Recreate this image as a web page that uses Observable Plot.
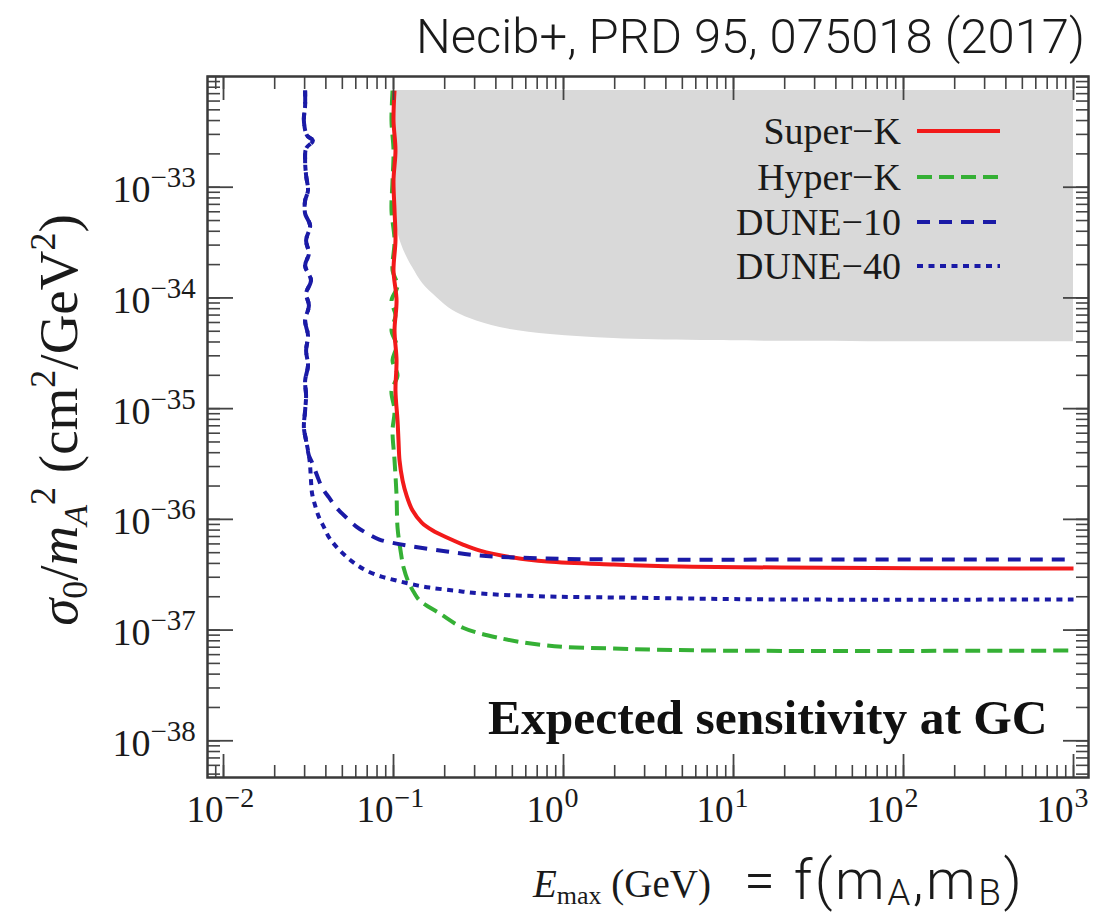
<!DOCTYPE html>
<html><head><meta charset="utf-8">
<script src="https://cdn.jsdelivr.net/npm/d3@7"></script>
<script src="https://cdn.jsdelivr.net/npm/@observablehq/plot@0.6"></script>
<style>
body{margin:0;background:#fff;}
#wrap{position:relative;width:1102px;height:920px;overflow:hidden;background:#fff;}
#wrap svg{position:absolute;left:0;top:0;}
</style></head><body><div id="wrap"></div>
<script>
const serif = "'Liberation Serif','Times New Roman',serif";
const sans = "Roboto,'Liberation Sans',sans-serif";

// [E_max (GeV), sigma0/mA^2 (cm^2/GeV^2)]
const duneShared = [[0.0302,7.47e-33],[0.0302,5.47e-33],[0.0297,4.00e-33],[0.0310,2.93e-33],[0.0336,2.64e-33],[0.0306,2.24e-33],[0.0302,1.74e-33],[0.0306,1.28e-33],[0.0314,9.33e-34],[0.0302,7.58e-34],[0.0302,5.79e-34],[0.0323,4.51e-34],[0.0306,3.30e-34],[0.0318,2.52e-34],[0.0302,1.96e-34],[0.0327,1.44e-34],[0.0306,1.10e-34],[0.0318,8.54e-35],[0.0302,6.25e-35],[0.0314,4.57e-35],[0.0306,3.35e-35],[0.0314,2.45e-35],[0.0302,1.79e-35],[0.0306,1.31e-35],[0.0302,9.61e-36],[0.0297,6.75e-36],[0.0306,5.15e-36],[0.0318,3.77e-36]];
const dune10Tail = [[0.0332,3.26e-36],[0.0355,2.49e-36],[0.0380,1.94e-36],[0.0418,1.57e-36],[0.0460,1.28e-36],[0.0527,1.04e-36],[0.0604,8.61e-37],[0.0702,7.44e-37],[0.0826,6.57e-37],[0.104,6.04e-37],[0.130,5.68e-37],[0.206,5.12e-37],[0.323,4.71e-37],[0.804,4.43e-37],[3.14,4.33e-37],[19.2,4.33e-37],[1000,4.33e-37]];
const dune40Tail = [[0.0323,3.06e-36],[0.0327,2.24e-36],[0.0332,1.71e-36],[0.0346,1.33e-36],[0.0365,1.04e-36],[0.0391,8.43e-37],[0.0418,6.85e-37],[0.0466,5.56e-37],[0.0527,4.61e-37],[0.0604,3.91e-37],[0.0692,3.45e-37],[0.0849,3.04e-37],[0.104,2.80e-37],[0.130,2.58e-37],[0.163,2.42e-37],[0.230,2.27e-37],[0.323,2.14e-37],[0.804,2.01e-37],[1.98,1.97e-37],[19.2,1.89e-37],[1000,1.89e-37]];
const superK = [[0.1014,7.47e-33],[0.1000,4.00e-33],[0.1027,2.15e-33],[0.1000,1.15e-33],[0.1014,6.16e-34],[0.1027,3.30e-34],[0.1000,1.77e-34],[0.1042,9.47e-35],[0.1014,5.08e-35],[0.1042,2.72e-35],[0.1027,1.46e-35],[0.1056,7.81e-36],[0.1070,5.15e-36],[0.1085,3.40e-36],[0.1131,2.24e-36],[0.1194,1.64e-36],[0.1295,1.20e-36],[0.1465,9.35e-37],[0.1701,7.92e-37],[0.2059,6.85e-37],[0.2561,5.92e-37],[0.3228,5.22e-37],[0.5059,4.52e-37],[0.8042,4.16e-37],[1.977,3.91e-37],[4.923,3.75e-37],[19.23,3.67e-37],[1000,3.59e-37]];
const hyperK = [[0.0987,7.47e-33],[0.0973,4.00e-33],[0.1000,2.15e-33],[0.0987,1.15e-33],[0.0973,6.16e-34],[0.1014,3.30e-34],[0.0987,1.77e-34],[0.1056,1.29e-34],[0.0973,9.47e-35],[0.1027,6.93e-35],[0.0973,5.08e-35],[0.1042,3.72e-35],[0.0987,2.72e-35],[0.1056,1.99e-35],[0.0973,1.46e-35],[0.1014,9.61e-36],[0.0987,6.34e-36],[0.1014,3.40e-36],[0.1042,1.64e-36],[0.1056,8.43e-37],[0.1100,5.22e-37],[0.1146,3.67e-37],[0.1227,2.69e-37],[0.1331,2.14e-37],[0.1425,1.85e-37],[0.1872,1.41e-37],[0.2561,1.05e-37],[0.4070,8.56e-38],[0.8042,7.24e-38],[1.977,6.81e-38],[7.721,6.53e-38],[1000,6.53e-38]];
// excluded region: lower boundary, upper edge
const grayLower = [[0.1027,7.58e-34],[0.1056,4.06e-34],[0.1131,2.85e-34],[0.1194,2.37e-34],[0.1295,1.88e-34],[0.1484,1.35e-34],[0.1796,1.01e-34],[0.2234,7.70e-35],[0.2817,6.52e-35],[0.4238,5.40e-35],[0.8377,4.67e-35],[1.977,4.30e-35],[6.47,4.12e-35],[98.6,4.03e-35],[1000,4.03e-35]];
const grayTop = 7.47e-33;

const xDomain = [0.00805, 1225];
const yDomain = [4.66e-39, 1e-32];
const xMajor = [1e-2, 1e-1, 1, 10, 100, 1000];
const xExp = ["−2", "−1", "0", "1", "2", "3"];
const yMajor = [1e-33, 1e-34, 1e-35, 1e-36, 1e-37, 1e-38];
const yExp = ["−33", "−34", "−35", "−36", "−37", "−38"];
const seriesNames = ["Super−K", "Hyper−K", "DUNE−10", "DUNE−40"];
const seriesColors = ["#f21a1a", "#35b035", "#1a1aa6", "#1a1aa6"];
const seriesDash = [null, "15,7", "13,9", "6,5.5"];

const dune10 = duneShared.concat(dune10Tail);
const dune40 = duneShared.concat(dune40Tail);
const xMinor = d3.scaleLog().domain(xDomain).ticks();
const yMinor = d3.scaleLog().domain(yDomain).ticks();

const tickStroke = "#444";
const lineOpts = (i) => ({x: d => d[0], y: d => d[1], stroke: seriesColors[i], strokeWidth: 4, strokeDasharray: seriesDash[i] || undefined, strokeLinecap: "butt", curve: "catmull-rom"});

const chart = Plot.plot({
  width: 1102, height: 920,
  marginLeft: 207, marginRight: 14, marginTop: 76, marginBottom: 143,
  style: {background: "transparent", overflow: "visible"},
  x: {type: "log", domain: xDomain},
  y: {type: "log", domain: yDomain},
  marks: [
    Plot.areaY(grayLower, {x: d => d[0], y1: d => d[1], y2: () => grayTop, fill: "#d9d9d9", curve: "catmull-rom"}),
    Plot.line(hyperK, lineOpts(1)),
    Plot.line(superK, lineOpts(0)),
    Plot.line(dune40, lineOpts(3)),
    Plot.line(dune10, lineOpts(2)),
    Plot.axisX(xMinor, {anchor: "bottom", tickSize: -12, tickFormat: () => "", stroke: tickStroke, strokeWidth: 1.6, label: null}),
    Plot.axisX(xMinor, {anchor: "top", tickSize: -12, tickFormat: () => "", stroke: tickStroke, strokeWidth: 1.6, label: null}),
    Plot.axisX(xMajor, {anchor: "bottom", tickSize: -23, tickFormat: () => "", stroke: tickStroke, strokeWidth: 1.8, label: null}),
    Plot.axisX(xMajor, {anchor: "top", tickSize: -23, tickFormat: () => "", stroke: tickStroke, strokeWidth: 1.8, label: null}),
    Plot.axisY(yMinor, {anchor: "left", tickSize: -13, tickFormat: () => "", stroke: tickStroke, strokeWidth: 1.6, label: null}),
    Plot.axisY(yMinor, {anchor: "right", tickSize: -13, tickFormat: () => "", stroke: tickStroke, strokeWidth: 1.6, label: null}),
    Plot.axisY(yMajor, {anchor: "left", tickSize: -26, tickFormat: () => "", stroke: tickStroke, strokeWidth: 1.8, label: null}),
    Plot.axisY(yMajor, {anchor: "right", tickSize: -26, tickFormat: () => "", stroke: tickStroke, strokeWidth: 1.8, label: null}),
    Plot.frame({stroke: "#3a3a3a", strokeWidth: 2.5}),
    Plot.text(xMajor, {x: d => d, frameAnchor: "bottom", text: () => "10", textAnchor: "end", lineAnchor: "bottom", dy: 44, fontSize: 37, fontFamily: serif, fill: "#1a1a1a"}),
    Plot.text(xMajor, {x: d => d, frameAnchor: "bottom", text: (d, i) => xExp[i], textAnchor: "start", lineAnchor: "bottom", dx: 1, dy: 29, fontSize: 28, fontFamily: serif, fill: "#1a1a1a"}),
    Plot.text(yMajor, {y: d => d, frameAnchor: "left", text: () => "10", textAnchor: "end", lineAnchor: "bottom", dx: -57, dy: 15, fontSize: 38, fontFamily: serif, fill: "#1a1a1a"}),
    Plot.text(yMajor, {y: d => d, frameAnchor: "left", text: (d, i) => yExp[i], textAnchor: "start", lineAnchor: "bottom", dx: -57, dy: 0, fontSize: 29, fontFamily: serif, fill: "#1a1a1a"}),
    Plot.text(["Expected sensitivity at GC"], {frameAnchor: "bottom-right", text: d => d, textAnchor: "end", lineAnchor: "bottom", dx: -41, dy: -44, fontSize: 49.5, fontWeight: "bold", fontFamily: serif, fill: "#111"})
  ]
});
document.getElementById("wrap").appendChild(chart);

// overlay: titles and legend
const ov = d3.select("#wrap").append("svg").attr("width", 1102).attr("height", 920)
  .style("pointer-events", "none");

ov.append("text").attr("x", 1085).attr("y", 53).attr("text-anchor", "end")
  .attr("font-family", sans).attr("font-weight", 300).attr("font-size", 49).attr("fill", "#1a1a1a")
  .text("Necib+, PRD 95, 075018 (2017)");

// x title
const xt = ov.append("text").attr("x", 533).attr("y", 897).attr("font-family", serif).attr("font-size", 39).attr("fill", "#1a1a1a");
xt.append("tspan").attr("font-style", "italic").text("E");
xt.append("tspan").attr("font-size", 26).attr("dy", 7).text("max");
xt.append("tspan").attr("dy", -7).text(" (GeV)");
const xf = ov.append("text").attr("x", 744).attr("y", 899).attr("font-family", sans).attr("font-weight", 300).attr("font-size", 56).attr("letter-spacing", 2.5).attr("fill", "#1a1a1a");
xf.append("tspan").text("= f(m");
xf.append("tspan").attr("font-size", 37).attr("dy", 6).text("A");
xf.append("tspan").attr("dy", -6).text(",m");
xf.append("tspan").attr("font-size", 37).attr("dy", 6).text("B");
xf.append("tspan").attr("dy", -6).text(")");

// y title
const yt = ov.append("text").attr("transform", "translate(77,420) rotate(-90)").attr("text-anchor", "middle")
  .attr("font-family", serif).attr("font-size", 55).attr("fill", "#1a1a1a");
yt.append("tspan").attr("font-style", "italic").text("σ");
yt.append("tspan").attr("font-size", 36).attr("dy", 10).text("0");
yt.append("tspan").attr("dy", -10).text("/");
yt.append("tspan").attr("font-style", "italic").text("m");
yt.append("tspan").attr("font-style", "italic").attr("font-size", 34).attr("dy", 10).text("A");
yt.append("tspan").attr("font-size", 36).attr("dy", -32).text("2");
yt.append("tspan").attr("dy", 22).text(" (cm");
yt.append("tspan").attr("font-size", 36).attr("dy", -22).text("2");
yt.append("tspan").attr("dy", 22).text("/GeV");
yt.append("tspan").attr("font-size", 36).attr("dy", -22).text("2");
yt.append("tspan").attr("dy", 22).text(")");

// legend
const rowY = [131, 177, 222, 266];
seriesNames.forEach((name, i) => {
  ov.append("text").attr("x", 901).attr("y", rowY[i] + 13).attr("text-anchor", "end")
    .attr("font-family", serif).attr("font-size", 38).attr("fill", "#1a1a1a").text(name);
  ov.append("line").attr("x1", 917).attr("x2", 1000).attr("y1", rowY[i]).attr("y2", rowY[i])
    .attr("stroke", seriesColors[i]).attr("stroke-width", 4)
    .attr("stroke-dasharray", seriesDash[i] || null);
});
</script></body></html>
